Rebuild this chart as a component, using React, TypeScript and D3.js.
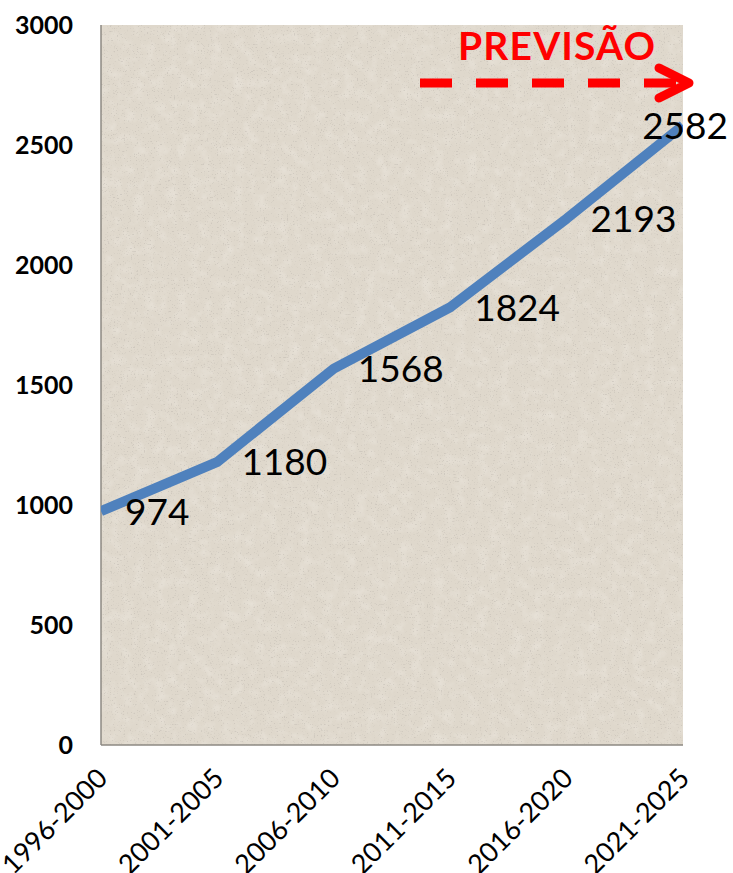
import React from "react";
import * as d3 from "d3";

// Population per five-year period (last point is a projection)
const periods: string[] = ["1996-2000", "2001-2005", "2006-2010", "2011-2015", "2016-2020", "2021-2025"];
const values: number[] = [974, 1180, 1568, 1824, 2193, 2582];
const yTicks: number[] = [0, 500, 1000, 1500, 2000, 2500, 3000];
const forecastLabel = "PREVISÃO";

const W = 733;
const H = 873;
const plot = { left: 101, right: 683, top: 25, bottom: 745 };

export default function App() {
  const x = d3.scalePoint<string>().domain(periods).range([plot.left, plot.right]);
  const y = d3.scaleLinear().domain([0, 3000]).range([plot.bottom, plot.top]);

  const line = d3
    .line<number>()
    .x((_, i) => x(periods[i]) as number)
    .y((d) => y(d));

  const font = "Lato, 'Open Sans', sans-serif";
  const pw = plot.right - plot.left;
  const ph = plot.bottom - plot.top;

  return (
    <svg
      width={W}
      height={H}
      viewBox={`0 0 ${W} ${H}`}
      style={{ position: "absolute", left: 0, top: 0, background: "#fff" }}
    >
      <defs>
        {/* soft mottling of the paper */}
        <filter id="mottle" x="0" y="0" width="100%" height="100%">
          <feTurbulence type="fractalNoise" baseFrequency="0.09" numOctaves="3" seed="3" result="n" />
          <feColorMatrix
            in="n"
            type="matrix"
            values="0 0 0 0 1  0 0 0 0 0.98  0 0 0 0 0.95  1.6 0 0 0 -0.7"
          />
        </filter>
        {/* small dark specks */}
        <filter id="specks" x="0" y="0" width="100%" height="100%">
          <feTurbulence type="fractalNoise" baseFrequency="0.7" numOctaves="2" seed="11" result="n" />
          <feColorMatrix
            in="n"
            type="matrix"
            values="0 0 0 0 0.45  0 0 0 0 0.42  0 0 0 0 0.38  7 0 0 0 -4.4"
          />
        </filter>
        <clipPath id="plotClip">
          <rect x={plot.left} y={plot.top} width={pw} height={ph} />
        </clipPath>
      </defs>

      {/* paper-textured plot background */}
      <rect x={plot.left} y={plot.top} width={pw} height={ph} fill="#dfd8cc" />
      <rect x={plot.left} y={plot.top} width={pw} height={ph} filter="url(#mottle)" opacity={0.3} />
      <rect x={plot.left} y={plot.top} width={pw} height={ph} filter="url(#specks)" opacity={0.35} />

      {/* axes */}
      <line x1={plot.left} x2={plot.left} y1={plot.top} y2={plot.bottom} stroke="#8c8882" strokeWidth={1.5} />
      <line x1={plot.left} x2={plot.right} y1={plot.bottom} y2={plot.bottom} stroke="#8c8882" strokeWidth={1.5} />

      {yTicks.map((t) => (
        <text
          key={t}
          x={73}
          y={y(t)}
          dy="0.36em"
          textAnchor="end"
          fontFamily={font}
          fontWeight={700}
          fontSize={25}
          fill="#000"
        >
          {t}
        </text>
      ))}

      {periods.map((p) => {
        const px = x(p) as number;
        const ax = px + 8;
        const ay = 780;
        return (
          <text
            key={p}
            x={ax}
            y={ay}
            textAnchor="end"
            transform={`rotate(-45, ${ax}, ${ay})`}
            fontFamily={font}
            fontSize={27}
            fill="#000"
          >
            {p}
          </text>
        );
      })}

      {/* series line */}
      <path
        d={line(values) ?? ""}
        fill="none"
        stroke="#4f81bd"
        strokeWidth={10}
        strokeLinejoin="round"
        clipPath="url(#plotClip)"
      />

      {/* value labels */}
      {values.map((v, i) => {
        const px = x(periods[i]) as number;
        const py = y(v);
        const last = i === values.length - 1;
        return (
          <text
            key={i}
            x={last ? px + 45 : px + 24}
            y={py}
            dy="0.36em"
            textAnchor={last ? "end" : "start"}
            fontFamily={font}
            fontSize={37}
            fill="#000"
          >
            {v}
          </text>
        );
      })}

      {/* forecast marker */}
      <text
        x={458}
        y={60}
        fontFamily={font}
        fontWeight={700}
        fontSize={39}
        textLength={197}
        lengthAdjust="spacing"
        fill="#ff0000"
      >
        {forecastLabel}
      </text>
      <line x1={420} x2={688} y1={83} y2={83} stroke="#ff0000" strokeWidth={9} strokeDasharray="32 24" />
      <path
        d="M659,68 L689,83 L659,98"
        fill="none"
        stroke="#ff0000"
        strokeWidth={9}
        strokeLinecap="round"
        strokeLinejoin="round"
      />
    </svg>
  );
}
